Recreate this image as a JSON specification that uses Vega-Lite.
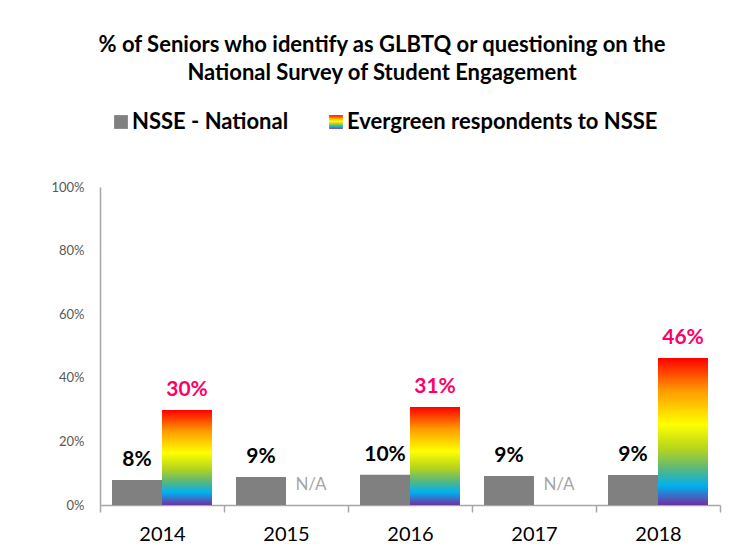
{
  "$schema": "https://vega.github.io/schema/vega-lite/v6.json",
  "width": 620,
  "height": 318,
  "autosize": {"type": "none"},
  "padding": {"left": 100, "top": 187, "right": 9, "bottom": 53},
  "background": "white",
  "config": {"view": {"stroke": null}, "font": "Lato"},
  "title": {
    "text": ["% of Seniors who identify as GLBTQ or questioning on the", "National Survey of Student Engagement"],
    "anchor": "middle",
    "dx": -28,
    "offset": 26,
    "fontSize": 22,
    "fontWeight": "bold",
    "font": "Lato",
    "color": "#000000",
    "lineHeight": 28
  },
  "data": {
    "values": [
      {"year": "2014", "series": "NSSE - National", "value": 0.079, "label": "8%"},
      {"year": "2014", "series": "Evergreen respondents to NSSE", "value": 0.299, "label": "30%"},
      {"year": "2015", "series": "NSSE - National", "value": 0.088, "label": "9%"},
      {"year": "2015", "series": "Evergreen respondents to NSSE", "value": null, "label": "N/A"},
      {"year": "2016", "series": "NSSE - National", "value": 0.095, "label": "10%"},
      {"year": "2016", "series": "Evergreen respondents to NSSE", "value": 0.308, "label": "31%"},
      {"year": "2017", "series": "NSSE - National", "value": 0.091, "label": "9%"},
      {"year": "2017", "series": "Evergreen respondents to NSSE", "value": null, "label": "N/A"},
      {"year": "2018", "series": "NSSE - National", "value": 0.094, "label": "9%"},
      {"year": "2018", "series": "Evergreen respondents to NSSE", "value": 0.462, "label": "46%"}
    ]
  },
  "encoding": {
    "x": {
      "field": "year", "type": "nominal",
      "scale": {"paddingInner": 0, "paddingOuter": 0},
      "axis": {
        "title": null, "labelAngle": 0, "labelFontSize": 20, "labelColor": "#000000",
        "labelFont": "Lato", "labelPadding": 12, "tickBand": "extent", "tickSize": 7,
        "tickColor": "#a6a6a6", "domainColor": "#a6a6a6", "domainWidth": 1.5, "tickWidth": 1.5
      }
    },
    "xOffset": {
      "field": "series", "type": "nominal",
      "scale": {"domain": ["NSSE - National", "Evergreen respondents to NSSE"], "paddingInner": 0, "paddingOuter": 0.24}
    }
  },
  "layer": [
    {
      "transform": [{"filter": "datum.value != null"}],
      "mark": {"type": "bar"},
      "encoding": {
        "y": {
          "field": "value", "type": "quantitative",
          "scale": {"domain": [0, 1]},
          "axis": {
            "title": null, "format": "%", "values": [0, 0.2, 0.4, 0.6, 0.8, 1],
            "grid": false, "ticks": false, "labelPadding": 16, "labelFontSize": 13,
            "labelColor": "#595959", "labelFont": "Lato", "domainColor": "#a6a6a6", "domainWidth": 1.5
          }
        },
        "color": {
          "field": "series", "type": "nominal",
          "scale": {
            "domain": ["NSSE - National", "Evergreen respondents to NSSE"],
            "range": [
              "#808080",
              {"expr": "{gradient: 'linear', x1: 0, y1: 0, x2: 0, y2: 1, stops: [{offset: 0, color: '#ff0000'}, {offset: 0.22, color: '#ff9900'}, {offset: 0.45, color: '#ffff00'}, {offset: 0.62, color: '#b5d41e'}, {offset: 0.75, color: '#5cb87a'}, {offset: 0.87, color: '#00b0f0'}, {offset: 1, color: '#7030a0'}]}"}
            ]
          },
          "legend": {
            "title": null, "orient": "none", "legendX": 10, "legendY": -76, "direction": "horizontal",
            "symbolType": "square", "symbolSize": 190, "symbolStrokeWidth": 0,
            "labelFontSize": 22, "labelFontWeight": "bold", "labelFont": "Lato", "labelColor": "#000000",
            "labelOffset": 0, "columnPadding": 36, "labelLimit": 400
          }
        }
      }
    },
    {
      "transform": [{"filter": "datum.value != null"}],
      "mark": {"type": "text", "baseline": "bottom", "dy": -10, "fontSize": 21, "fontWeight": "bold", "font": "Lato"},
      "encoding": {
        "y": {"field": "value", "type": "quantitative"},
        "text": {"field": "label"},
        "color": {
          "condition": {"test": "datum.series === 'NSSE - National'", "value": "#000000"},
          "value": "#ff0066"
        }
      }
    },
    {
      "transform": [{"filter": "datum.value == null"}],
      "mark": {"type": "text", "baseline": "middle", "dy": -20, "fontSize": 17, "font": "Lato", "color": "#a6a6a6"},
      "encoding": {
        "y": {"datum": 0},
        "text": {"field": "label"}
      }
    }
  ]
}
